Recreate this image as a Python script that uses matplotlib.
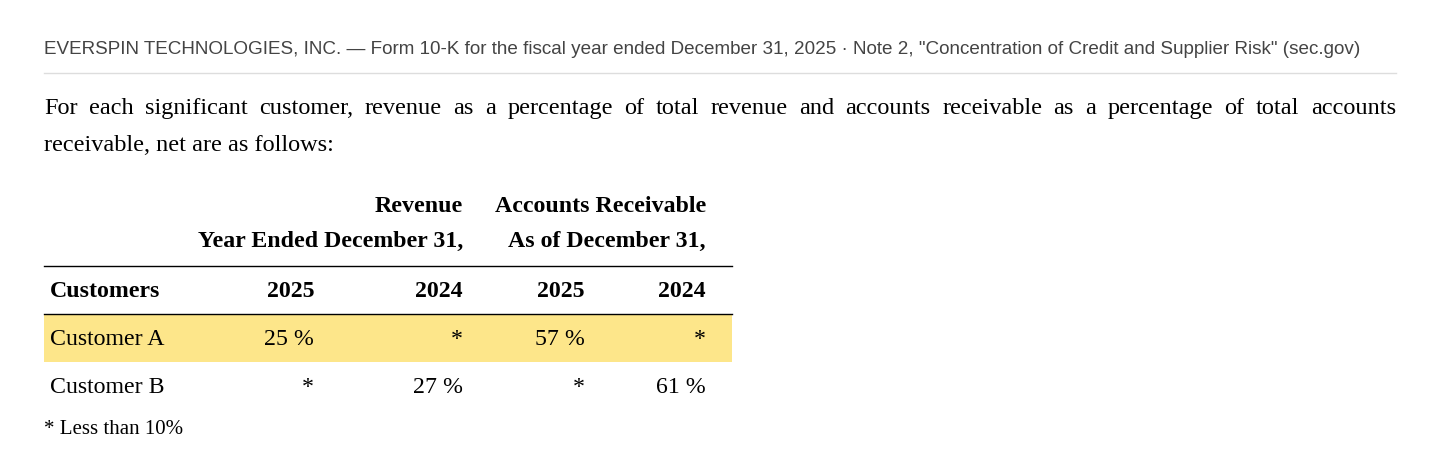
import matplotlib.pyplot as plt

source = ('EVERSPIN TECHNOLOGIES, INC. \u2014 Form 10-K for the fiscal year ended December 31, 2025 \u00b7 '
          'Note 2, "Concentration of Credit and Supplier Risk" (sec.gov)')
intro = ('For each significant customer, revenue as a percentage of total revenue and accounts receivable '
         'as a percentage of total accounts receivable, net are as follows:')
years = ['2025', '2024', '2025', '2024']
customers = ['Customer A', 'Customer B']
revenue_2025 = ['25 %', '*']
revenue_2024 = ['*', '27 %']
ar_2025 = ['57 %', '*']
ar_2024 = ['*', '61 %']
footnote = '* Less than 10%'

fig = plt.figure(figsize=(14.4, 4.65), dpi=100)
ax = fig.add_axes([0, 0, 1, 1])
ax.set_xlim(0, 1440)
ax.set_ylim(465, 0)
ax.axis('off')

serif = 'Liberation Serif'
ax.text(44, 49, source, fontsize=13.6, family='Liberation Sans', color='#444444', va='center')
ax.plot([44, 1396], [73, 73], color='#dddddd', lw=1)

# justified first line of the paragraph
fig.canvas.draw()
renderer = fig.canvas.get_renderer()
words = intro.split()
first, rest = words[:20], words[20:]
arts = [ax.text(0, 108, w, fontsize=17.5, family=serif, va='center') for w in first]
widths = [a.get_window_extent(renderer).width for a in arts]
gap = (1396 - 44 - sum(widths)) / (len(first) - 1)
x = 44
for a, w in zip(arts, widths):
    a.set_x(x)
    x += w + gap
ax.text(44, 145, ' '.join(rest), fontsize=17.5, family=serif, va='center')

# table headers
bold = dict(fontsize=17.2, family=serif, weight='bold', va='center', ha='right')
ax.text(463, 206, 'Revenue', **bold)
ax.text(706, 206, 'Accounts Receivable', **bold)
ax.text(463, 241, 'Year Ended December 31,', **bold)
ax.text(706, 241, 'As of December 31,', **bold)
ax.plot([44, 732], [266, 266], color='black', lw=1)
ax.text(50, 291, 'Customers', fontsize=17.2, family=serif, weight='bold', va='center')
col_x = [314, 463, 585, 706]
for cx, y in zip(col_x, years):
    ax.text(cx, 291, y, **bold)
ax.plot([44, 732], [314, 314], color='black', lw=1)

# rows
ax.fill_between([44, 732], 315, 362, color='#fde68a', lw=0)
row_y = [339, 387]
for i, name in enumerate(customers):
    ax.text(50, row_y[i], name, fontsize=17.2, family=serif, va='center')
    vals = [revenue_2025[i], revenue_2024[i], ar_2025[i], ar_2024[i]]
    for cx, v in zip(col_x, vals):
        ax.text(cx, row_y[i], v, fontsize=17.2, family=serif, va='center', ha='right')

ax.text(44, 429, footnote, fontsize=15, family=serif, va='center')

fig.savefig('out.png', dpi=100)
